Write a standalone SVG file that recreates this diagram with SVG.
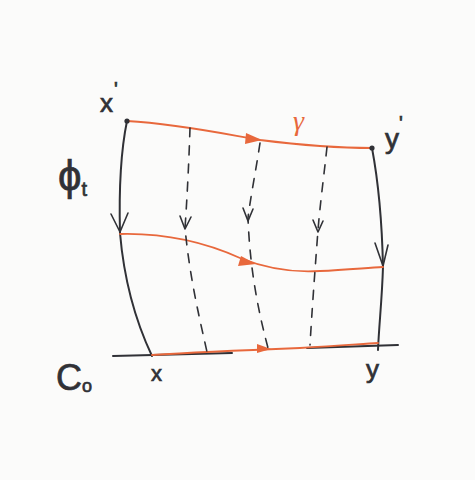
<svg xmlns="http://www.w3.org/2000/svg" width="475" height="480" viewBox="0 0 475 480">
<style>
.bk{fill:none;stroke:#303136;stroke-width:2;stroke-linecap:round;stroke-linejoin:round}
.or{fill:none;stroke:#e8683c;stroke-width:1.8;stroke-linecap:round}
.da{fill:none;stroke:#303136;stroke-width:1.6;stroke-dasharray:9 9;stroke-linecap:round}
.ah{fill:none;stroke:#303136;stroke-width:1.6;stroke-linecap:round;stroke-linejoin:round}
.oa{fill:#e8683c;stroke:none}
.lb{font-family:"Liberation Sans",Arial,sans-serif;fill:#303136;stroke:#303136;stroke-width:0.7}
.lo{font-family:"Liberation Serif",serif;fill:#e8683c;font-style:italic}
</style>
<rect width="475" height="480" fill="#fbfbfa"/>
<g id="connectors">
<path class="bk" d="M113,356 L232,353 M307,348 L398,345"/>
<path class="bk" d="M127,121 C121,150 119,195 120,233 C124,280 135,320 152,356"/>
<path class="ah" d="M111,214 L120,232 L128,213"/>
<path class="bk" d="M372,148 C378,180 382,220 383,267 C382,300 379,325 378,350"/>
<path class="ah" d="M375,243 L383,266 L388,245"/>
<path class="or" d="M127,121 C180,124 230,135 260,140 C300,145 340,148 372,148"/>
<polygon class="oa" points="262,140 246,133 245,144"/>
<path class="or" d="M120,234 C160,233 200,240 240,258 C265,268 290,273 320,271 C345,270 365,268 383,267"/>
<polygon class="oa" points="256,264 241,256 238,266"/>
<path class="or" d="M152,355 C200,352 250,350 300,348 C340,346 360,344 378,343"/>
<polygon class="oa" points="271,349 257,344 257,353"/>
<path class="da" d="M190,128 C189,160 187,200 185,228 C190,280 200,320 207,352"/>
<path class="ah" d="M180,216 L185,229 L191,217"/>
<path class="da" d="M260,143 C256,170 250,200 248,218 C250,270 258,310 268,348"/>
<path class="ah" d="M243,208 L248,221 L253,209"/>
<path class="da" d="M327,147 C324,175 320,205 318,230 C315,270 312,310 310,345"/>
<path class="ah" d="M313,220 L318,232 L323,221"/>
</g>
<g id="node-xp">
<circle cx="127" cy="121" r="2.6" fill="#303136"/>
<text class="lb" x="100" y="112" font-size="26">x<tspan dx="1" dy="-16" font-size="20">'</tspan></text>
</g>
<g id="node-yp">
<circle cx="372" cy="148" r="2.6" fill="#303136"/>
<text class="lb" x="385" y="148" font-size="28">y<tspan dy="-18" font-size="20">'</tspan></text>
</g>
<g id="label-gamma"><text class="lo" x="293" y="130" font-size="28">γ</text></g>
<g id="label-phi"><text class="lb" x="58" y="190" font-size="42">ϕ<tspan font-size="20" dy="6">t</tspan></text></g>
<g id="label-C0"><text class="lb" x="56" y="390" font-size="36">C<tspan font-size="18" dy="2">o</tspan></text></g>
<g id="node-x"><text class="lb" x="151" y="381" font-size="22">x</text></g>
<g id="node-y"><text class="lb" x="366" y="378" font-size="26">y</text></g>
</svg>
